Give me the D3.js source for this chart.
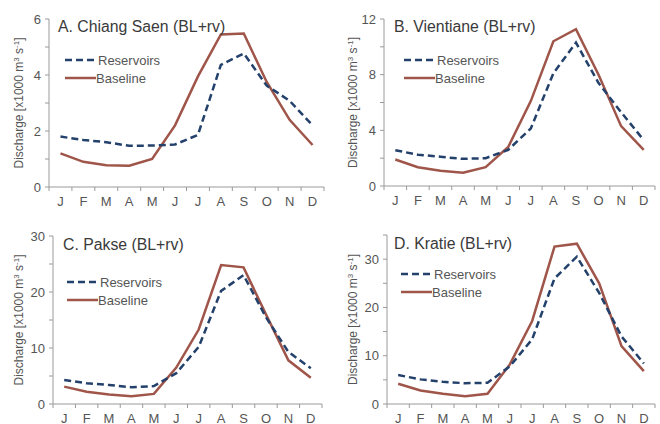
<!DOCTYPE html>
<html><head><meta charset="utf-8">
<script src="https://cdn.jsdelivr.net/npm/d3@7"></script>
<style>body{margin:0;background:#fff}svg{display:block}text{font-family:"Liberation Sans",Arial,sans-serif}</style>
</head><body><svg id="c" width="660" height="424"></svg>
<script>
const months = ["J","F","M","A","M","J","J","A","S","O","N","D"];
const titles = ["A. Chiang Saen (BL+rv)","B. Vientiane (BL+rv)","C. Pakse (BL+rv)","D. Kratie (BL+rv)"];
const reservoirsA = [1.80,1.68,1.60,1.47,1.48,1.52,1.86,4.36,4.77,3.62,3.08,2.20];
const baselineA   = [1.20,0.90,0.78,0.76,1.00,2.20,3.95,5.45,5.48,3.75,2.40,1.50];
const reservoirsB = [2.57,2.25,2.10,1.95,2.00,2.60,4.13,8.10,10.30,7.40,5.30,3.30];
const baselineB   = [1.90,1.35,1.10,0.95,1.35,2.80,6.10,10.40,11.27,8.00,4.30,2.60];
const reservoirsC = [4.3,3.7,3.4,3.0,3.2,5.5,10.2,20.2,23.0,15.5,9.3,6.4];
const baselineC   = [3.1,2.2,1.7,1.4,1.8,6.5,13.3,24.8,24.4,16.0,7.8,4.7];
const reservoirsD = [6.0,5.1,4.6,4.3,4.4,7.8,13.4,26.0,30.5,23.0,14.0,8.4];
const baselineD   = [4.2,2.8,2.1,1.6,2.1,8.2,17.2,32.6,33.2,25.0,12.0,6.8];
const yMax = [6,12,30,35];
const yMinorStep = [1,2,5,5];
const yLabelStep = [2,4,10,10];
const legendLabels = ["Reservoirs","Baseline"];

const panels = [
  {res:reservoirsA, base:baselineA, x0:49, x1:324, y0:187, y1:19, tx:58, ty:32, lx:65, ly:60, yt:23},
  {res:reservoirsB, base:baselineB, x0:384, x1:655, y0:186, y1:19, tx:394, ty:32, lx:404, ly:60, yt:357},
  {res:reservoirsC, base:baselineC, x0:53, x1:322, y0:404, y1:236, tx:63, ty:250, lx:67, ly:282, yt:23},
  {res:reservoirsD, base:baselineD, x0:387, x1:655, y0:404, y1:235, tx:394, ty:249, lx:401, ly:274, yt:357}
];
const resColor = "#23416b", baseColor = "#9f5549", axisColor = "#9a9a9a", labColor = "#555";
const svg = d3.select("#c");

panels.forEach((p,i)=>{
  const g = svg.append("g");
  const x = d3.scaleBand().domain(d3.range(12)).range([p.x0,p.x1]);
  const y = d3.scaleLinear().domain([0,yMax[i]]).range([p.y0,p.y1]);
  // y axis
  const minorTicks = d3.range(0, yMax[i]+1e-9, yMinorStep[i]);
  g.append("line").attr("x1",p.x0).attr("x2",p.x0).attr("y1",y(yMax[i])).attr("y2",p.y0).attr("stroke",axisColor).attr("stroke-width",1);
  g.selectAll(".yt").data(minorTicks).join("line").attr("x1",p.x0-4).attr("x2",p.x0).attr("y1",d=>y(d)).attr("y2",d=>y(d)).attr("stroke",axisColor);
  const labTicks = d3.range(0, yMax[i]+1e-9, yLabelStep[i]);
  g.selectAll(".yl").data(labTicks).join("text").attr("x",p.x0-8).attr("y",d=>y(d)+4.5).attr("text-anchor","end").attr("font-size",13).attr("fill",labColor).text(d=>d);
  // x axis
  g.append("line").attr("x1",p.x0).attr("x2",p.x1).attr("y1",p.y0).attr("y2",p.y0).attr("stroke",axisColor);
  g.selectAll(".xt").data(d3.range(13)).join("line").attr("x1",d=>p.x0+d*x.step()).attr("x2",d=>p.x0+d*x.step()).attr("y1",p.y0).attr("y2",p.y0+4).attr("stroke",axisColor);
  g.selectAll(".xl").data(months).join("text").attr("x",(d,j)=>x(j)+x.bandwidth()/2).attr("y",p.y0+18.5).attr("text-anchor","middle").attr("font-size",13).attr("fill",labColor).text(d=>d);
  // y title
  const cy = (p.y0 + y(yMax[i]))/2;
  const yt = g.append("text").attr("transform",`translate(${p.yt},${cy}) rotate(-90)`).attr("text-anchor","middle").attr("font-size",12).attr("fill",labColor);
  yt.append("tspan").text("Discharge [x1000 m");
  yt.append("tspan").attr("dy",-4).attr("font-size",8).text("3");
  yt.append("tspan").attr("dy",4).text(" s");
  yt.append("tspan").attr("dy",-4).attr("font-size",8).text("-1");
  yt.append("tspan").attr("dy",4).text("]");
  // lines
  const line = d3.line().x((d,j)=>x(j)+x.bandwidth()/2).y(d=>y(d));
  g.append("path").datum(p.base).attr("d",line).attr("fill","none").attr("stroke",baseColor).attr("stroke-width",2.5).attr("stroke-linejoin","miter");
  g.append("path").datum(p.res).attr("d",line).attr("fill","none").attr("stroke",resColor).attr("stroke-width",2.5).attr("stroke-dasharray","7,4");
  // title
  g.append("text").attr("x",p.tx).attr("y",p.ty).attr("font-size",15.8).attr("fill","#3a3a3a").text(titles[i]);
  // legend
  g.append("line").attr("x1",p.lx).attr("x2",p.lx+29).attr("y1",p.ly).attr("y2",p.ly).attr("stroke",resColor).attr("stroke-width",2.5).attr("stroke-dasharray","7,4");
  g.append("line").attr("x1",p.lx).attr("x2",p.lx+31).attr("y1",p.ly+18).attr("y2",p.ly+18).attr("stroke",baseColor).attr("stroke-width",2.5);
  g.append("text").attr("x",p.lx+33).attr("y",p.ly+4.5).attr("font-size",13).attr("fill",labColor).text(legendLabels[0]);
  g.append("text").attr("x",p.lx+31).attr("y",p.ly+22.5).attr("font-size",13).attr("fill",labColor).text(legendLabels[1]);
});
</script></body></html>
